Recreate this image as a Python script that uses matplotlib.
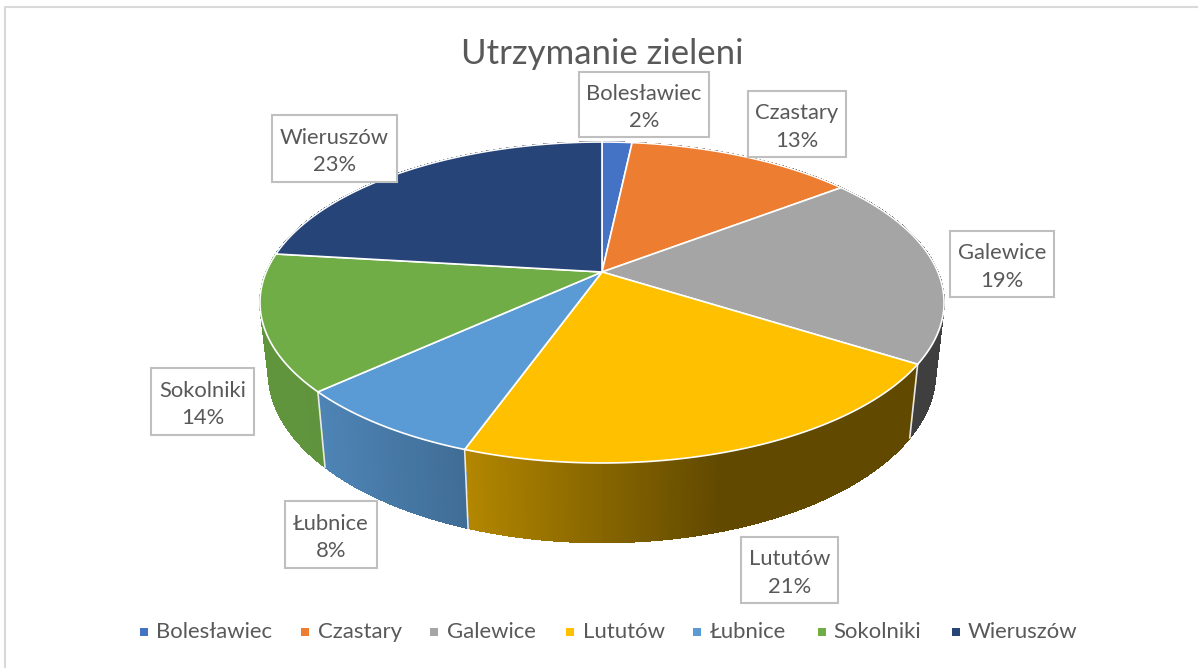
import numpy as np
import matplotlib
matplotlib.use('Agg')
import matplotlib.pyplot as plt
from matplotlib.patches import Rectangle

plt.rcParams['font.family'] = ['Lato', 'DejaVu Sans']

title = 'Utrzymanie zieleni'
names = ['Bolesławiec', 'Czastary', 'Galewice', 'Lututów', 'Łubnice', 'Sokolniki', 'Wieruszów']
values = [1.7, 12.9, 19.4, 21.45, 7.75, 13.7, 23.1]
colors = ['#4472C4', '#ED7D31', '#A5A5A5', '#FFC000', '#5B9BD5', '#70AD47', '#264478']

# layout, in pixels of the 1198x668 picture
box_rects = [(579, 72, 130, 65), (748, 91, 98, 66), (950, 231, 104, 66), (741, 537, 97, 66),
             (285, 501, 92, 67), (151, 368, 103, 67), (272, 115, 125, 67)]
legend_sq = [144, 305, 434, 570, 697, 822, 956]
legend_txt = [156, 318, 447, 583, 710, 833, 968]
text_col = '#595959'

cx, cy = 602, 272
a, b, k = 335.8, 154.7, 0.19


def top(t):
    # clockwise angle from 12 o'clock, disc seen in perspective
    xx = np.sin(t)
    yy = np.cos(t)
    d = 1 + k * yy
    return cx + a * xx / d, cy - b * yy / d


def bottom(t):
    x, y = top(t)
    return cx + 0.975 * (x - cx), cy + 1.06 * (y - cy) + 68


def shade(x):
    return np.interp(x, [260, 320, 465, 720, 950], [0.86, 0.85, 0.70, 0.38, 0.38])


fig = plt.figure(figsize=(11.98, 6.68), dpi=100)
ax = fig.add_axes([0, 0, 1, 1])
ax.set_xlim(0, 1198)
ax.set_ylim(668, 0)
ax.axis('off')

ax.plot([5, 5, 1198], [668, 7, 7], color='#D9D9D9', lw=1.5)

edges = np.cumsum([0] + values) / sum(values) * 2 * np.pi

# side walls, as thin strips so the shade can change along the rim
for i in range(len(values)):
    ts = np.arange(edges[i], edges[i + 1] + 0.004, 0.008)
    ts[-1] = edges[i + 1]
    base = np.array(matplotlib.colors.to_rgb(colors[i]))
    for t0, t1 in zip(ts[:-1], ts[1:]):
        x0, y0 = top(t0)
        x1, y1 = top(t1)
        x2, y2 = bottom(t1)
        x3, y3 = bottom(t0)
        c = base * shade((x0 + x1) / 2)
        ax.fill([x0, x1, x2, x3], [y0, y1, y2, y3], color=c, lw=0.5, antialiased=False, zorder=2)

for e in edges[:-1]:
    x0, y0 = top(e)
    x1, y1 = bottom(e)
    ax.plot([x0, x1], [y0, y1], color='#E8E8E8', lw=1.2, zorder=3)

# top faces
for i in range(len(values)):
    ts = np.linspace(edges[i], edges[i + 1], 200)
    x, y = top(ts)
    ax.fill(np.r_[cx, x], np.r_[cy, y], facecolor=colors[i], edgecolor='white', lw=1.2,
            joinstyle='round', zorder=4)

ax.text(602, 54, title, ha='center', va='center', fontsize=25, color=text_col, zorder=6)

# data labels
for name, val, (x, y, w, h) in zip(names, values, box_rects):
    ax.add_patch(Rectangle((x, y), w, h, facecolor='white', edgecolor='#BFBFBF', lw=1.5, zorder=5))
    ax.text(x + w / 2, y + h / 2 + 3, '%s\n%d%%' % (name, round(val)), ha='center', va='center',
            fontsize=15.8, color=text_col, linespacing=1.48, zorder=6)

# legend
for i in range(len(names)):
    ax.add_patch(Rectangle((legend_sq[i] - 4, 628), 8, 8, facecolor=colors[i], edgecolor='none'))
    ax.text(legend_txt[i], 632, names[i], ha='left', va='center', fontsize=15.9, color=text_col)

fig.savefig('out.png', dpi=100)
